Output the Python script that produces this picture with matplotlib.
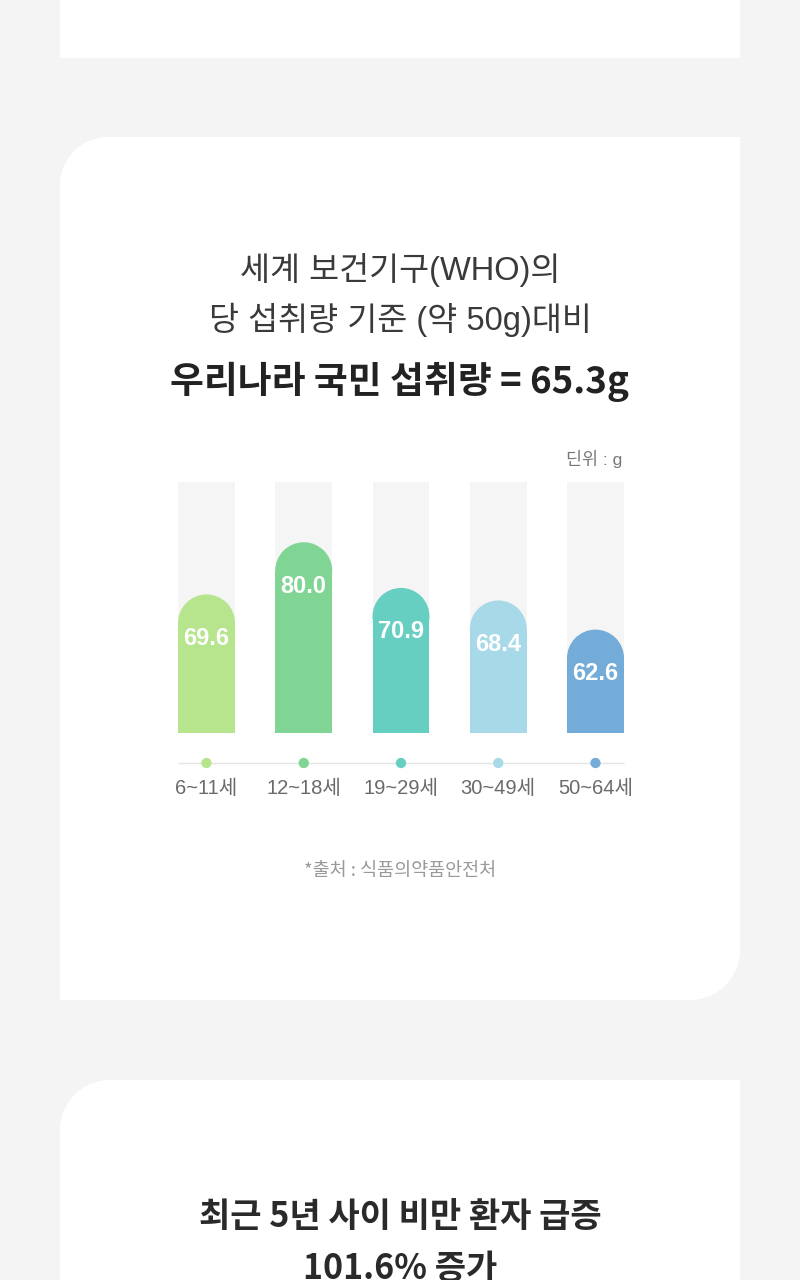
import matplotlib
matplotlib.use('Agg')
import matplotlib.pyplot as plt
from matplotlib.patches import Polygon, Ellipse
import numpy as np

plt.rcParams['font.family'] = ['Noto Sans CJK KR', 'DejaVu Sans']
latin_kr = ['Liberation Sans', 'Noto Sans CJK KR']

# data
age_groups = ['6~11세', '12~18세', '19~29세', '30~49세', '50~64세']
sugar_g = [69.6, 80.0, 70.9, 68.4, 62.6]
bar_colors = ['#b6e58e', '#80d595', '#67cfc2', '#a7d9e9', '#74acd9']

title_lines = ['세계 보건기구(WHO)의', '당 섭취량 기준 (약 50g)대비']
headline = '우리나라 국민 섭취량 = 65.3g'
unit_text = '딘위 : g'
source_text = '*출처 : 식품의약품안전처'
next_title = ['최근 5년 사이 비만 환자 급증', '101.6% 증가']

# scale used by the design (baseline / track top)
y_base, y_top = 42, 92

W, H = 800, 1280
fig = plt.figure(figsize=(W / 100, H / 100), dpi=100)
fig.patch.set_facecolor('#f4f4f4')

bg = fig.add_axes([0, 0, 1, 1])
bg.set_xlim(0, W)
bg.set_ylim(H, 0)
bg.axis('off')


def card(x0, y0, x1, y1, r_tl=0, r_tr=0, r_br=0, r_bl=0):
    pts = []
    for (cx, cy, r, a0) in [(x0 + r_tl, y0 + r_tl, r_tl, 180),
                            (x1 - r_tr, y0 + r_tr, r_tr, 270),
                            (x1 - r_br, y1 - r_br, r_br, 0),
                            (x0 + r_bl, y1 - r_bl, r_bl, 90)]:
        t = np.radians(np.linspace(a0, a0 + 90, 20))
        pts += list(zip(cx + r * np.cos(t), cy + r * np.sin(t)))
    bg.add_patch(Polygon(pts, closed=True, facecolor='white', edgecolor='none'))


card(60, -10, 740, 58)
card(60, 137, 740, 1000, r_tl=48, r_br=50)
card(60, 1080, 740, 1320, r_tl=50)

# titles
bg.text(400, 270, title_lines[0], ha='center', va='center', fontsize=23.5,
        color='#3a3a3a', fontweight='light', family=latin_kr)
bg.text(400, 320, title_lines[1], ha='center', va='center', fontsize=23.5,
        color='#3a3a3a', fontweight='light', family=latin_kr)
bg.text(400, 382, headline, ha='center', va='center', fontsize=26.5,
        color='#222222', fontweight='bold')
bg.text(622, 459, unit_text, ha='right', va='center', fontsize=12.5, color='#777777',
        family=latin_kr)
bg.text(400, 871, source_text, ha='center', va='center', fontsize=13.3, color='#999999')
bg.text(400, 1217, next_title[0], ha='center', va='center', fontsize=24.5,
        color='#2a2a2a', fontweight='bold')
bg.text(400, 1268, next_title[1], ha='center', va='center', fontsize=24.5,
        color='#2a2a2a', fontweight='bold')

# bar chart
x = np.arange(len(sugar_g))
bw = 0.586
ax_l, ax_w = 160, 482
ax_top, ax_bot = 482, 733
ax = fig.add_axes([ax_l / W, 1 - ax_bot / H, ax_w / W, (ax_bot - ax_top) / H])
ax.set_xlim(-0.478, 4.478)
ax.set_ylim(y_base, y_top)
ax.axis('off')

px_per_x = ax_w / (4.478 + 0.478)
px_per_y = (ax_bot - ax_top) / (y_top - y_base)
r_px = bw * px_per_x / 2
ry = r_px / px_per_y

ax.bar(x, y_top - y_base, bottom=y_base, width=bw, color='#f5f5f5', linewidth=0)
for xi, v, c in zip(x, sugar_g, bar_colors):
    ax.bar(xi, v - ry - y_base, bottom=y_base, width=bw, color=c, linewidth=0)
    ax.add_patch(Ellipse((xi, v - ry), bw, 2 * ry, facecolor=c, edgecolor='none'))
    ax.annotate(f'{v:.1f}', xy=(xi, v), xytext=(0, -44), textcoords='offset pixels',
                ha='center', va='center', color='white', fontsize=17,
                fontweight='bold', family=latin_kr)

# axis line with dots and labels
ax2 = fig.add_axes([ax_l / W, 1 - 810 / H, ax_w / W, 70 / H])
ax2.set_xlim(ax.get_xlim())
ax2.set_ylim(810, 740)
ax2.axis('off')
ax2.hlines(763, x[0] - bw / 2, x[-1] + bw / 2, color='#e4e4e4', linewidth=1)
ax2.scatter(x, [763] * len(x), s=55, c=bar_colors, zorder=3, linewidths=0)
for xi, lab in zip(x, age_groups):
    ax2.text(xi, 789, lab, ha='center', va='center', fontsize=14.5, color='#6a6a6a',
             family=latin_kr)

fig.savefig('out.png', dpi=100, facecolor=fig.get_facecolor())
